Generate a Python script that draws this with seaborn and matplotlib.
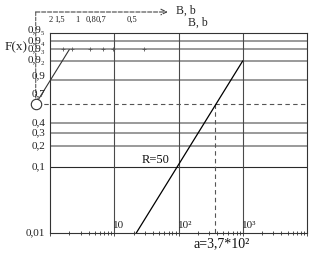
import numpy as np
import matplotlib
matplotlib.use("Agg")
import matplotlib.pyplot as plt
from matplotlib.ticker import NullLocator
import seaborn as sns

# ---------------- data ----------------
r_x = [22, 1000]            # R=50 line, x values
r_F = [0.01, 0.99]          # R=50 line, F(x) values
a_value = 370               # a = 3,7*10^2
F_a = 0.632                 # F(a) = 1 - 1/e
pole_x = 0.6                # pole of the b-scale construction
grid_F = [0.2, 0.3, 0.4, 0.9, 0.99, 0.999, 0.9999]
grid_F_dark = [0.1]
y_tick_F = [0.01, 0.1, 0.2, 0.3, 0.4, 0.7, 0.9, 0.99, 0.999, 0.9999, 0.99999]
y_tick_labels = ["0,01", "0,1", "0,2", "0,3", "0,4", "0,7", "0,9",
                 "0,9₂", "0,9₃", "0,9₄", "0,9₅"]
x_decades = [10, 100, 1000]
x_labels = ["10", "10²", "10³"]
b_values = [2, 1.5, 1, 0.8, 0.7, 0.5]
b_labels = ["2", "1,5", "1", "0,8", "0,7", "0,5"]
F_b_scale = 0.999
F_min, F_max = 0.01, 0.999996


def fwd(F):
    F = np.clip(np.asarray(F, dtype=float), 1e-12, 1 - 1e-15)
    return np.log10(-np.log1p(-F))


def inv(u):
    return -np.expm1(-10.0 ** np.asarray(u, dtype=float))


sns.set_style("white")
plt.rcParams['font.family'] = ['Liberation Serif', 'DejaVu Serif']

W, H = 323, 256
fig = plt.figure(figsize=(W / 100, H / 100), dpi=100)
ax = fig.add_axes([50 / W, 23 / H, 257 / W, 200 / H])
ax.set_xscale('log')
ax.set_yscale('function', functions=(fwd, inv))
ax.set_xlim(1, 1e4)
ax.set_ylim(F_min, F_max)

# grid
for F in grid_F:
    ax.axhline(F, color='#9a9a9a', lw=1.4, zorder=1)
for F in grid_F_dark:
    ax.axhline(F, color='#2a2a2a', lw=0.8, zorder=1)
for x in x_decades:
    ax.axvline(x, color='#4a4a4a', lw=0.8, zorder=1)

# R=50 line
sns.lineplot(x=r_x, y=r_F, ax=ax, color='black', lw=0.9,
             estimator=None, sort=False, zorder=4)

# dashed construction lines for a
dash = (0, (4, 3))
ax.plot([pole_x, 1e4], [F_a, F_a], color='#555555', lw=0.8, ls=dash,
        clip_on=False, zorder=2)
ax.plot([a_value, a_value], [F_a, F_min], color='#555555', lw=0.8, ls=dash,
        zorder=2)

# b-scale construction (pole line parallel to R line)
b_R = (fwd(r_F[1]) - fwd(r_F[0])) / (np.log10(r_x[1]) - np.log10(r_x[0]))


def b_to_x(b):
    return pole_x * 10 ** ((fwd(F_b_scale) - fwd(F_a)) / np.asarray(b, float))


ax.plot([pole_x, b_to_x(b_R)], [F_a, F_b_scale], color='#333333', lw=0.8,
        clip_on=False, zorder=3)
ax.plot(b_to_x(b_values), [F_b_scale] * len(b_values), ls='none',
        marker='+', ms=3, mew=0.6, color='#555555', zorder=3)
ax.plot([pole_x], [F_a], marker='o', ms=7.5, mfc='white', mec='#333333',
        mew=0.8, clip_on=False, zorder=6)

xt = ax.get_xaxis_transform()
yt = ax.get_yaxis_transform()
for b, lab in zip(b_values, b_labels):
    ax.annotate(lab, xy=(b_to_x(b), 1.065), xycoords=xt,
                xytext=(-8.6, 0), textcoords='offset points',
                ha='center', va='center', fontsize=6.1, color='#222222',
                annotation_clip=False)

# top dashed arrow and vertical dashed to pole
ax.annotate('', xy=(68, 1.105), xycoords=xt, xytext=(pole_x, 1.105),
            textcoords=xt, annotation_clip=False,
            arrowprops=dict(arrowstyle='->', lw=0.8, ls='--', color='#444444',
                            shrinkA=0, shrinkB=0))
ax.annotate('', xy=(pole_x, F_a), xycoords='data', xytext=(pole_x, 1.105),
            textcoords=xt, annotation_clip=False,
            arrowprops=dict(arrowstyle='-', lw=0.7, ls='--', color='#444444',
                            shrinkA=0, shrinkB=4))

# y labels
for F, lab in zip(y_tick_F, y_tick_labels):
    if lab in ("0,9", "0,7"):
        dy = 3.6
    elif F == y_tick_F[-1]:
        dy = 3.2
    else:
        dy = 0
    ax.annotate(lab, xy=(0, F), xycoords=yt, xytext=(-3.6, dy),
                textcoords='offset points', ha='right', va='center',
                fontsize=8, color='#222222', annotation_clip=False)

# x decade labels inside
for x, lab in zip(x_decades, x_labels):
    ax.annotate(lab, xy=(x, 0), xycoords=xt, xytext=(-0.7, 2.5),
                textcoords='offset points', ha='left', va='bottom',
                fontsize=8, color='#222222')

ax.annotate('a=3,7*10²', xy=(a_value, 0), xycoords=xt, xytext=(5, -7.5),
            textcoords='offset points', ha='center', va='center',
            fontsize=10, color='#111111', annotation_clip=False)
ax.text(0.358, 0.365, 'R=50', transform=ax.transAxes, ha='left',
        va='center', fontsize=9, color='#111111')

fig.text(16 / W, 1 - 47 / H, 'F(x)', ha='center', va='center', fontsize=9.5)
fig.text(176 / W, 1 - 11 / H, 'B, b', ha='left', va='center', fontsize=8.5)
fig.text(188 / W, 1 - 23 / H, 'B, b', ha='left', va='center', fontsize=8.5)

# axes styling
ax.set_xlabel('')
ax.set_ylabel('')
ax.yaxis.set_major_locator(NullLocator())
ax.yaxis.set_minor_locator(NullLocator())
ax.tick_params(axis='y', left=False, labelleft=False)
ax.tick_params(axis='x', which='both', bottom=True, top=False,
               labelbottom=False, direction='inout', width=0.6,
               color='#333333')
ax.tick_params(axis='x', which='major', length=4)
ax.tick_params(axis='x', which='minor', length=3)
for s in ax.spines.values():
    s.set_color('#333333')
    s.set_linewidth(0.8)

fig.savefig('out.png', dpi=100)
